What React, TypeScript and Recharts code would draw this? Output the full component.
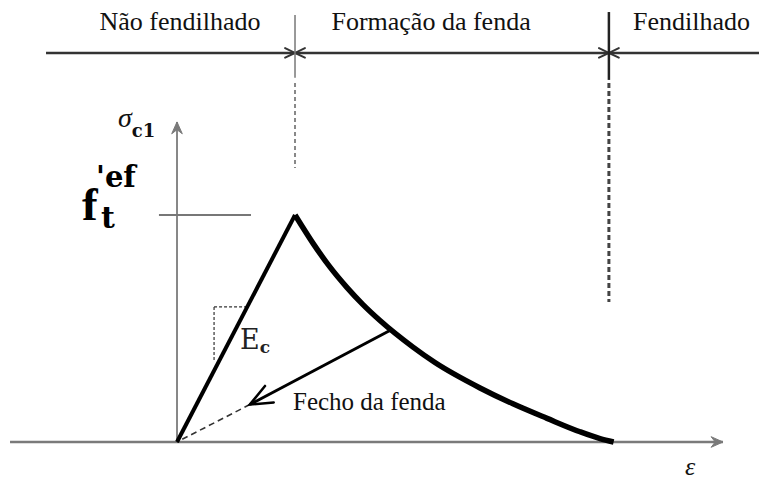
import React from "react"
import { ComposedChart, Line, XAxis, YAxis, ReferenceLine, ReferenceDot } from "recharts"

// strain is scaled so the peak sits at eps = 1, stress so that f't = 1
const loadingBranch = [
  { eps: 0, sig: 0 },
  { eps: 1, sig: 1 },
]

const softeningBranch = [
  { eps: 1, sig: 1 },
  { eps: 1.153, sig: 0.875 },
  { eps: 1.297, sig: 0.77 },
  { eps: 1.441, sig: 0.68 },
  { eps: 1.576, sig: 0.605 },
  { eps: 1.72, sig: 0.535 },
  { eps: 2.0, sig: 0.418 },
  { eps: 2.186, sig: 0.35 },
  { eps: 2.568, sig: 0.238 },
  { eps: 2.847, sig: 0.168 },
  { eps: 3.136, sig: 0.104 },
  { eps: 3.415, sig: 0.045 },
  { eps: 3.585, sig: 0.015 },
  { eps: 3.7, sig: 0 },
]

const unloadStart = { eps: 1.8, sig: 0.49 }
const unloadTip = { eps: 0.617, sig: 0.165 }
const closureBranch = [unloadTip, { eps: 0, sig: 0 }]

// stage boundaries and the level of the stage band on top
const crackOnset = 1
const crackOpen = 3.66
const bandLevel = 1.714
const bandFrom = -1.11

const stageLabels = [
  { text: "Não fendilhado", eps: 0.025, anchor: "middle" },
  { text: "Formação da fenda", eps: 2.153, anchor: "middle" },
  { text: "Fendilhado", eps: 3.864, anchor: "start" },
]
const stageLabelLevel = 1.815

// tangent modulus sketch on the loading branch
const modulusBox = { left: 0.314, right: 0.595, top: 0.595, bottom: 0.36 }

const X_DOMAIN: [number, number] = [-1.5, 4.932]
const Y_DOMAIN: [number, number] = [-0.1674, 1.947]

const serif = "Liberation Serif"
const mathSerif = "DejaVu Serif"

type Head = { len: number; spread: number; filled?: boolean; width?: number }

function headPts(fx: number, fy: number, tx: number, ty: number, h: Head) {
  const a = Math.atan2(ty - fy, tx - fx)
  const l = [tx - h.len * Math.cos(a - h.spread), ty - h.len * Math.sin(a - h.spread)]
  const r = [tx - h.len * Math.cos(a + h.spread), ty - h.len * Math.sin(a + h.spread)]
  if (h.filled) {
    const n = [tx - h.len * 0.6 * Math.cos(a), ty - h.len * 0.6 * Math.sin(a)]
    return [l, [tx, ty], r, n].map((p) => p.join(",")).join(" ")
  }
  return [l, [tx, ty], r].map((p) => p.join(",")).join(" ")
}

function arrowShape(color: string, width: number, dash?: string, start?: Head, end?: Head) {
  return (p: any) => {
    const { x1, y1, x2, y2 } = p
    if ([x1, y1, x2, y2].some((v) => typeof v !== "number" || isNaN(v))) return <g />
    const head = (h: Head, fx: number, fy: number, tx: number, ty: number) =>
      h.filled ? (
        <polygon points={headPts(fx, fy, tx, ty, h)} fill={color} stroke={color} strokeWidth={1} />
      ) : (
        <polyline
          points={headPts(fx, fy, tx, ty, h)}
          fill="none"
          stroke={color}
          strokeWidth={h.width ?? width}
          strokeLinecap="round"
          strokeLinejoin="miter"
        />
      )
    return (
      <g>
        <line x1={x1} y1={y1} x2={x2} y2={y2} stroke={color} strokeWidth={width} strokeDasharray={dash} />
        {start && head(start, x2, y2, x1, y1)}
        {end && head(end, x1, y1, x2, y2)}
      </g>
    )
  }
}

const bandHead: Head = { len: 11, spread: 0.45, width: 2 }
const axisHead: Head = { len: 13, spread: 0.42, filled: true }
const unloadHead: Head = { len: 24, spread: 0.4, width: 2.5 }

function note(eps: number, sig: number, key: string, draw: (x: number, y: number) => React.ReactElement) {
  return (
    <ReferenceDot
      key={key}
      x={eps}
      y={sig}
      r={0}
      fill="none"
      stroke="none"
      ifOverflow="visible"
      label={(p: any) => {
        const vb = p.viewBox || {}
        return draw(vb.x ?? 0, vb.y ?? 0)
      }}
    />
  )
}

const curveProps = { dot: false, activeDot: false, isAnimationActive: false } as const

export default function App() {
  return (
    <div style={{ position: "absolute", left: 0, top: 0, width: 759, height: 480, background: "#fff" }}>
      <ComposedChart width={759} height={480} margin={{ top: 0, right: 0, bottom: 0, left: 0 }}>
        <XAxis type="number" dataKey="eps" domain={X_DOMAIN} allowDataOverflow hide />
        <YAxis type="number" dataKey="sig" domain={Y_DOMAIN} allowDataOverflow hide />

        {/* stage band */}
        <ReferenceLine
          segment={[{ x: bandFrom, y: bandLevel }, { x: crackOnset, y: bandLevel }]}
          ifOverflow="visible"
          shape={arrowShape("#333", 2.5, undefined, undefined, bandHead)}
        />
        <ReferenceLine
          segment={[{ x: crackOnset, y: bandLevel }, { x: crackOpen, y: bandLevel }]}
          ifOverflow="visible"
          shape={arrowShape("#333", 2.5, undefined, bandHead, bandHead)}
        />
        <ReferenceLine
          segment={[{ x: crackOpen, y: bandLevel }, { x: X_DOMAIN[1], y: bandLevel }]}
          ifOverflow="visible"
          shape={arrowShape("#333", 2.5, undefined, bandHead)}
        />

        {/* stage boundaries */}
        <ReferenceLine
          segment={[{ x: crackOnset, y: 1.881 }, { x: crackOnset, y: 1.604 }]}
          ifOverflow="visible"
          shape={arrowShape("#777", 1.5)}
        />
        <ReferenceLine
          segment={[{ x: crackOnset, y: 1.581 }, { x: crackOnset, y: 1.207 }]}
          ifOverflow="visible"
          shape={arrowShape("#888", 2, "4 3")}
        />
        <ReferenceLine
          segment={[{ x: crackOpen, y: 1.894 }, { x: crackOpen, y: 1.595 }]}
          ifOverflow="visible"
          shape={arrowShape("#222", 2.5)}
        />
        <ReferenceLine
          segment={[{ x: crackOpen, y: 1.581 }, { x: crackOpen, y: 0.617 }]}
          ifOverflow="visible"
          shape={arrowShape("#444", 3, "5 3")}
        />

        {/* axes */}
        <ReferenceLine
          segment={[{ x: -1.415, y: 0 }, { x: 4.627, y: 0 }]}
          ifOverflow="visible"
          shape={arrowShape("#7a7a7a", 2.5, undefined, undefined, axisHead)}
        />
        <ReferenceLine
          segment={[{ x: 0, y: 0 }, { x: 0, y: 1.41 }]}
          ifOverflow="visible"
          shape={arrowShape("#7a7a7a", 1.8, undefined, undefined, axisHead)}
        />

        {/* tensile strength level */}
        <ReferenceLine
          segment={[{ x: -0.153, y: 1 }, { x: 0.627, y: 1 }]}
          ifOverflow="visible"
          shape={arrowShape("#777", 1.8)}
        />

        {/* modulus sketch */}
        <ReferenceLine
          segment={[{ x: modulusBox.left, y: modulusBox.top }, { x: modulusBox.right, y: modulusBox.top }]}
          ifOverflow="visible"
          shape={arrowShape("#333", 1.2, "3 2")}
        />
        <ReferenceLine
          segment={[{ x: modulusBox.left, y: modulusBox.top }, { x: modulusBox.left, y: modulusBox.bottom }]}
          ifOverflow="visible"
          shape={arrowShape("#333", 1.2, "3 2")}
        />

        <Line data={closureBranch} dataKey="sig" type="linear" stroke="#333" strokeWidth={1.6} strokeDasharray="6 4" {...curveProps} />
        <Line data={loadingBranch} dataKey="sig" type="linear" stroke="#000" strokeWidth={4} {...curveProps} />
        <Line data={softeningBranch} dataKey="sig" type="monotone" stroke="#000" strokeWidth={5.5} {...curveProps} />

        {/* unloading towards crack closure */}
        <ReferenceLine
          segment={[
            { x: unloadStart.eps, y: unloadStart.sig },
            { x: unloadTip.eps, y: unloadTip.sig },
          ]}
          ifOverflow="visible"
          shape={arrowShape("#000", 3, undefined, undefined, unloadHead)}
        />

        {stageLabels.map((s) =>
          note(s.eps, stageLabelLevel, s.text, (x, y) => (
            <text x={x} y={y} textAnchor={s.anchor as any} style={{ fontFamily: serif, fontSize: 26 }} fill="#111">
              {s.text}
            </text>
          ))
        )}

        {note(-0.5, 1.388, "sigma", (x, y) => (
          <text x={x} y={y} fill="#111">
            <tspan style={{ fontFamily: serif, fontStyle: "italic", fontSize: 28 }}>σ</tspan>
            <tspan style={{ fontFamily: mathSerif, fontWeight: "bold", fontSize: 18 }} dy={10}>
              c1
            </tspan>
          </text>
        ))}

        {note(-0.805, 0.978, "ft", (x, y) => (
          <text x={x} y={y} fill="#000" style={{ fontFamily: serif, fontWeight: "bold" }}>
            <tspan style={{ fontSize: 47 }}>f</tspan>
            <tspan x={x + 14} dy={-33} style={{ fontFamily: mathSerif, fontSize: 29 }}>
              'ef
            </tspan>
          </text>
        ))}
        {note(-0.645, 0.943, "ft-sub", (x, y) => (
          <text x={x} y={y} fill="#000" style={{ fontFamily: mathSerif, fontWeight: "bold", fontSize: 30 }}>
            t
          </text>
        ))}

        {note(0.534, 0.41, "Ec", (x, y) => (
          <text x={x} y={y} fill="#222">
            <tspan style={{ fontFamily: mathSerif, fontSize: 27 }}>E</tspan>
            <tspan style={{ fontFamily: mathSerif, fontWeight: "bold", fontSize: 17 }} dy={4}>
              c
            </tspan>
          </text>
        ))}

        {note(0.983, 0.141, "closure", (x, y) => (
          <text x={x} y={y} style={{ fontFamily: serif, fontSize: 25 }} fill="#111">
            Fecho da fenda
          </text>
        ))}

        {note(4.305, -0.145, "eps", (x, y) => (
          <text x={x} y={y} style={{ fontFamily: serif, fontStyle: "italic", fontSize: 26 }} fill="#111">
            ε
          </text>
        ))}
      </ComposedChart>
    </div>
  )
}
